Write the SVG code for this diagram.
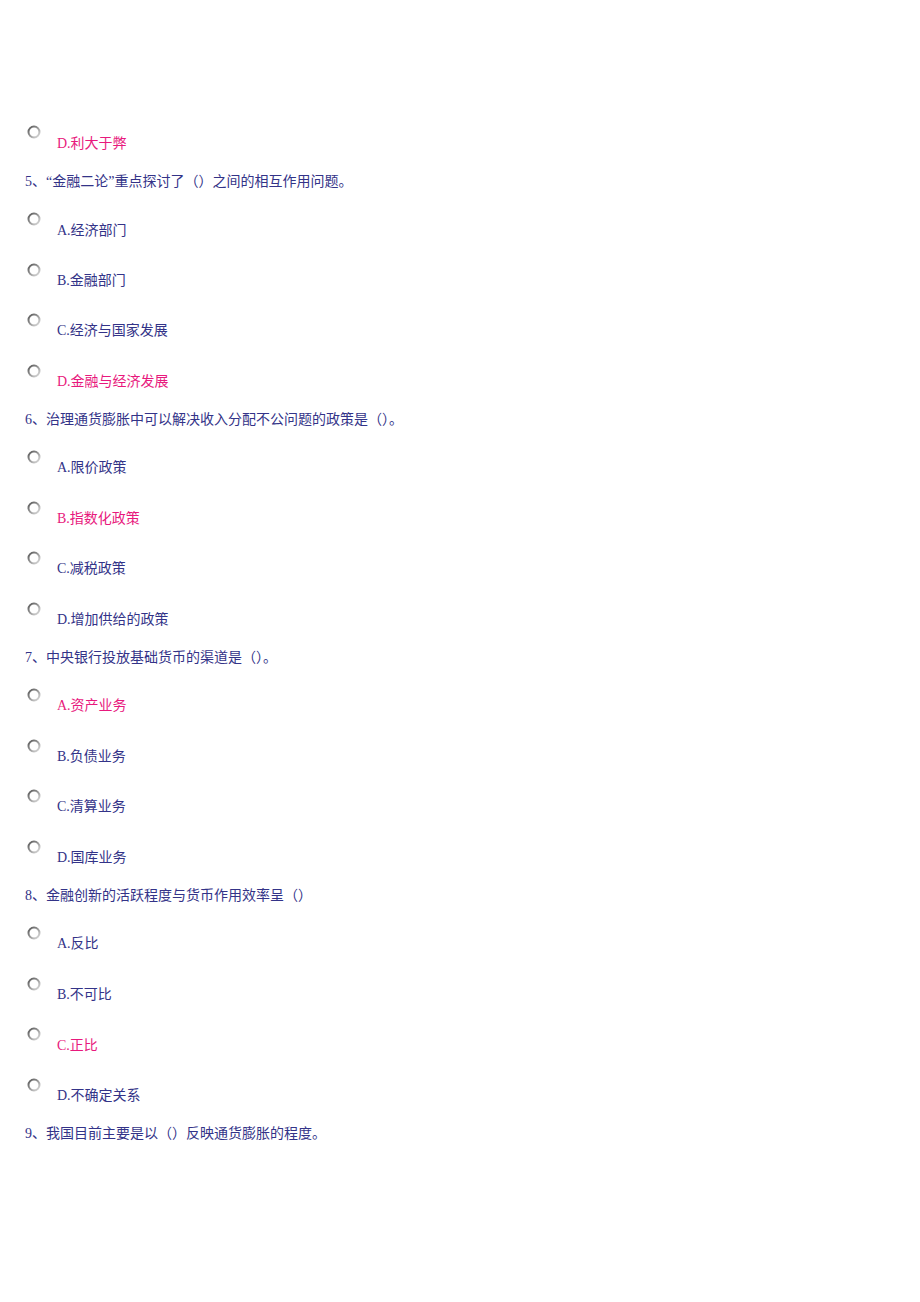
<svg xmlns="http://www.w3.org/2000/svg" width="920" height="1302" viewBox="0 0 920 1302">
<style>
text{font-family:"Liberation Serif","Noto Sans CJK SC",serif;font-size:14px;fill:#333388}
.k{fill:#e8197d}
.r{fill:#fff;stroke:url(#g);stroke-width:2}
</style>
<defs>
<linearGradient id="g" x1="0" y1="0" x2="1" y2="1">
<stop offset="0" stop-color="#555"/>
<stop offset="0.5" stop-color="#999"/>
<stop offset="1" stop-color="#e0e0e0"/>
</linearGradient>
<circle id="rb" r="5.5" class="r"/>
</defs>
<rect width="920" height="1302" fill="#fff"/>
<g id="q4">
<use href="#rb" x="34" y="132"/><text x="57" y="148" class="k">D.利大于弊</text>
</g>
<g id="q5">
<text x="25" y="186">5、“金融二论”重点探讨了（）之间的相互作用问题。</text>
<use href="#rb" x="34" y="219"/><text x="57" y="235">A.经济部门</text>
<use href="#rb" x="34" y="270"/><text x="57" y="285">B.金融部门</text>
<use href="#rb" x="34" y="320"/><text x="57" y="335">C.经济与国家发展</text>
<use href="#rb" x="34" y="371"/><text x="57" y="386" class="k">D.金融与经济发展</text>
</g>
<g id="q6">
<text x="25" y="424">6、治理通货膨胀中可以解决收入分配不公问题的政策是（）。</text>
<use href="#rb" x="34" y="457"/><text x="57" y="472">A.限价政策</text>
<use href="#rb" x="34" y="508"/><text x="57" y="523" class="k">B.指数化政策</text>
<use href="#rb" x="34" y="558"/><text x="57" y="573">C.减税政策</text>
<use href="#rb" x="34" y="609"/><text x="57" y="624">D.增加供给的政策</text>
</g>
<g id="q7">
<text x="25" y="662">7、中央银行投放基础货币的渠道是（）。</text>
<use href="#rb" x="34" y="695"/><text x="57" y="710" class="k">A.资产业务</text>
<use href="#rb" x="34" y="746"/><text x="57" y="761">B.负债业务</text>
<use href="#rb" x="34" y="796"/><text x="57" y="811">C.清算业务</text>
<use href="#rb" x="34" y="847"/><text x="57" y="862">D.国库业务</text>
</g>
<g id="q8">
<text x="25" y="900">8、金融创新的活跃程度与货币作用效率呈（）</text>
<use href="#rb" x="34" y="933"/><text x="57" y="948">A.反比</text>
<use href="#rb" x="34" y="984"/><text x="57" y="999">B.不可比</text>
<use href="#rb" x="34" y="1034"/><text x="57" y="1050" class="k">C.正比</text>
<use href="#rb" x="34" y="1085"/><text x="57" y="1100">D.不确定关系</text>
</g>
<g id="q9">
<text x="25" y="1138">9、我国目前主要是以（）反映通货膨胀的程度。</text>
</g>
</svg>
